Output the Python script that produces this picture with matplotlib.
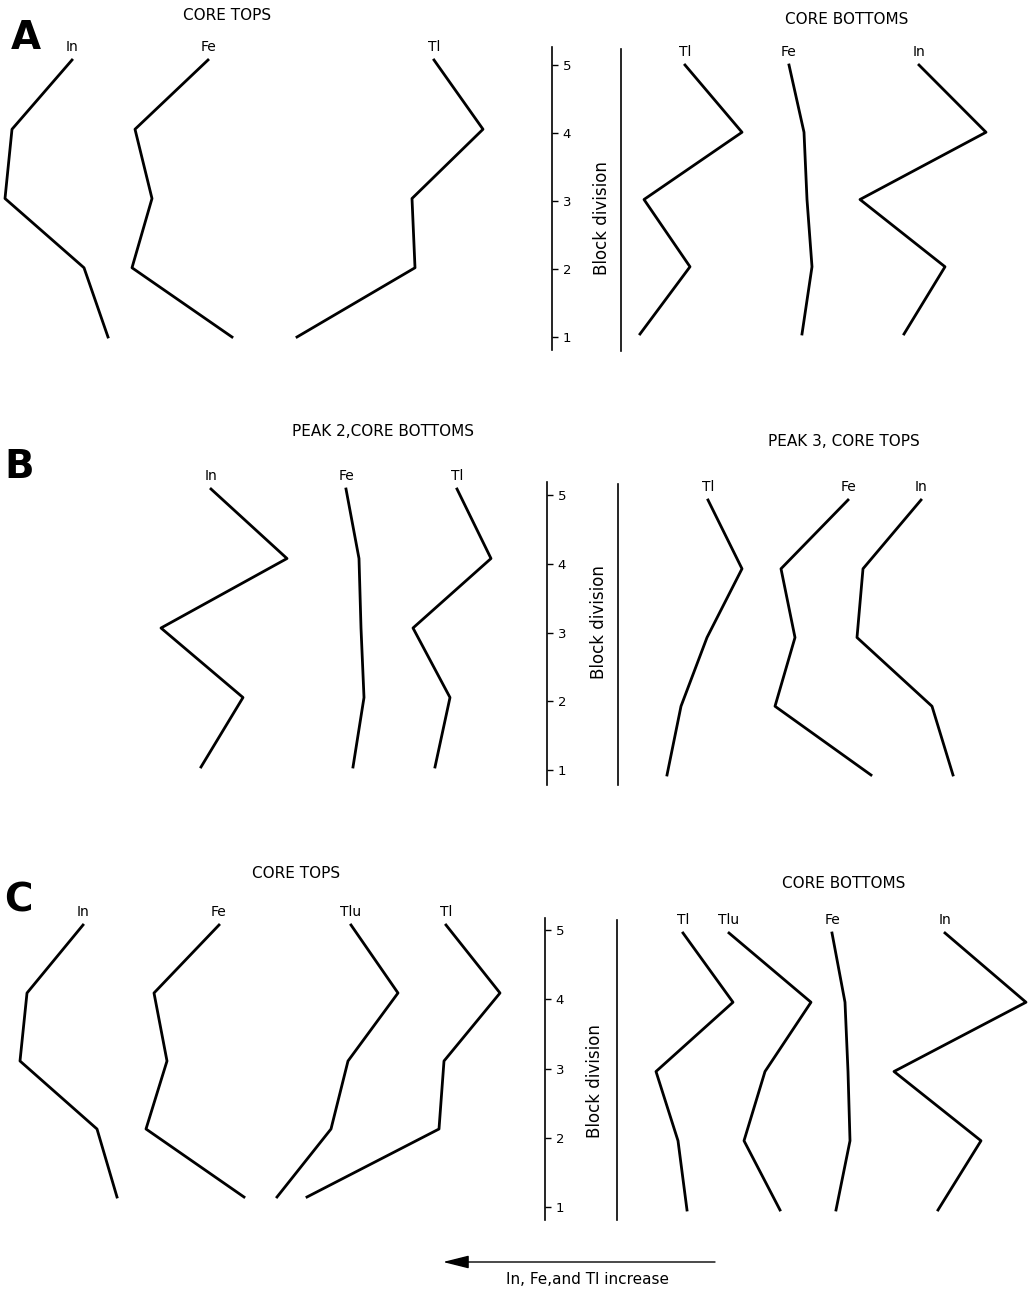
import matplotlib
matplotlib.use('Agg')
import matplotlib.pyplot as plt

W, H = 1028, 1289

blocks = [1, 2, 3, 4, 5]
block_ticks = [1, 2, 3, 4, 5]

# положения профилей по горизонтали (рост влево), по блокам 1..5
# A - core tops
a_tops_in = [108, 84, 5, 12, 72]
a_tops_fe = [232, 132, 152, 135, 208]
a_tops_tl = [297, 415, 412, 483, 434]
# A - core bottoms
a_bot_tl = [640, 690, 644, 742, 685]
a_bot_fe = [802, 812, 807, 804, 789]
a_bot_in = [904, 945, 860, 986, 919]

# B - peak 2, core bottoms
b_p2_in = [201, 243, 161, 287, 211]
b_p2_fe = [353, 364, 361, 359, 346]
b_p2_tl = [435, 450, 413, 491, 457]
# B - peak 3, core tops
b_p3_tl = [667, 681, 707, 742, 708]
b_p3_fe = [871, 775, 795, 781, 848]
b_p3_in = [953, 932, 857, 863, 921]

# C - core tops
c_tops_in = [117, 97, 20, 27, 83]
c_tops_fe = [244, 146, 167, 154, 219]
c_tops_tlu = [277, 331, 348, 398, 351]
c_tops_tl = [307, 439, 444, 500, 446]
# C - core bottoms
c_bot_tl = [687, 678, 656, 733, 683]
c_bot_tlu = [780, 744, 765, 811, 729]
c_bot_fe = [836, 850, 848, 845, 832]
c_bot_in = [938, 981, 894, 1026, 945]

panels = [
    {
        'letter': 'A', 'letter_pos': (26, 38),
        'left_title': 'CORE TOPS', 'left_title_pos': (227, 15),
        'right_title': 'CORE BOTTOMS', 'right_title_pos': (847, 20),
        'left': [('In', a_tops_in), ('Fe', a_tops_fe), ('Tl', a_tops_tl)],
        'right': [('Tl', a_bot_tl), ('Fe', a_bot_fe), ('In', a_bot_in)],
        'left_y': (60, 337), 'right_y': (65, 334),
        'scale_x': 552, 'scale_span': (47, 350), 'scale_y': (65, 337),
        'vline_x': 621, 'vline_span': (49, 351), 'label_xy': (602, 218),
    },
    {
        'letter': 'B', 'letter_pos': (19, 467),
        'left_title': 'PEAK 2,CORE BOTTOMS', 'left_title_pos': (383, 432),
        'right_title': 'PEAK 3, CORE TOPS', 'right_title_pos': (844, 441),
        'left': [('In', b_p2_in), ('Fe', b_p2_fe), ('Tl', b_p2_tl)],
        'right': [('Tl', b_p3_tl), ('Fe', b_p3_fe), ('In', b_p3_in)],
        'left_y': (489, 767), 'right_y': (500, 775),
        'scale_x': 547, 'scale_span': (482, 785), 'scale_y': (495, 770),
        'vline_x': 618, 'vline_span': (484, 785), 'label_xy': (599, 622),
    },
    {
        'letter': 'C', 'letter_pos': (18, 900),
        'left_title': 'CORE TOPS', 'left_title_pos': (296, 874),
        'right_title': 'CORE BOTTOMS', 'right_title_pos': (844, 884),
        'left': [('In', c_tops_in), ('Fe', c_tops_fe), ('Tlu', c_tops_tlu), ('Tl', c_tops_tl)],
        'right': [('Tl', c_bot_tl), ('Tlu', c_bot_tlu), ('Fe', c_bot_fe), ('In', c_bot_in)],
        'left_y': (925, 1197), 'right_y': (933, 1210),
        'scale_x': 545, 'scale_span': (918, 1220), 'scale_y': (930, 1207),
        'vline_x': 617, 'vline_span': (920, 1220), 'label_xy': (595, 1081),
    },
]


def fx(x):
    return x / W


def fy(y):
    return 1 - y / H


# оси в пикселях картинки, шкала блоков: y5 -> блок 5, y1 -> блок 1
def block_axes(fig, x0, x1, top, bot, y5, y1):
    ax = fig.add_axes([fx(x0), fy(bot), (x1 - x0) / W, (bot - top) / H])
    ppu = (y1 - y5) / 4.0
    ax.set_ylim(1 - (bot - y1) / ppu, 5 + (y5 - top) / ppu)
    ax.set_xlim(x0, x1)
    ax.patch.set_visible(False)
    ax.set_xticks([])
    ax.set_yticks([])
    for s in ax.spines.values():
        s.set_visible(False)
    return ax


def draw_profiles(ax, profiles):
    for name, vals in profiles:
        ax.plot(vals, blocks, color='black', lw=2.0, clip_on=False)
        ax.annotate(name, (vals[-1], blocks[-1]), xytext=(0, 4), textcoords='offset points',
                    ha='center', va='bottom', fontsize=10)


fig = plt.figure(figsize=(W / 100, H / 100), dpi=100)

for p in panels:
    # левая группа
    y5, y1 = p['left_y']
    ax_l = block_axes(fig, 0, 540, y5, y1, y5, y1)
    draw_profiles(ax_l, p['left'])

    # правая группа, левая граница оси = вертикальная линия
    top, bot = p['vline_span']
    y5, y1 = p['right_y']
    ax_r = block_axes(fig, p['vline_x'], W, top, bot, y5, y1)
    ax_r.spines['left'].set_visible(True)
    ax_r.spines['left'].set_linewidth(1.2)
    draw_profiles(ax_r, p['right'])

    # шкала блоков
    top, bot = p['scale_span']
    y5, y1 = p['scale_y']
    sx = p['scale_x']
    ax_s = block_axes(fig, sx, sx + 8, top, bot, y5, y1)
    ax_s.spines['left'].set_visible(True)
    ax_s.spines['left'].set_linewidth(1.2)
    ax_s.set_yticks(block_ticks)
    ax_s.tick_params(axis='y', direction='in', length=4, width=1, left=True, right=False,
                     labelleft=False, labelright=True, labelsize=9.5, pad=2)
    ax_s.set_ylabel('Block division', fontsize=12)
    ax_s.yaxis.set_label_position('right')
    lx, ly = p['label_xy']
    ax_s.yaxis.set_label_coords((lx - sx) / 8.0, (bot - ly) / (bot - top))
    ax_s.yaxis.label.set_verticalalignment('center')
    ax_s.yaxis.label.set_horizontalalignment('center')
    ax_s.yaxis.label.set_rotation_mode('default')

    lx, ly = p['letter_pos']
    fig.text(fx(lx), fy(ly), p['letter'], fontsize=28, fontweight='bold', ha='center', va='center')
    tx, ty = p['left_title_pos']
    fig.text(fx(tx), fy(ty), p['left_title'], fontsize=11, ha='center', va='center')
    tx, ty = p['right_title_pos']
    fig.text(fx(tx), fy(ty), p['right_title'], fontsize=11, ha='center', va='center')

# стрелка внизу
fig.add_artist(matplotlib.patches.FancyArrowPatch(
    (fx(715), fy(1262)), (fx(443), fy(1262)), transform=fig.transFigure,
    arrowstyle='-|>,head_length=1.6,head_width=0.4', mutation_scale=10,
    color='black', lw=1.0, shrinkA=0, shrinkB=0))
fig.text(fx(587), fy(1280), 'In, Fe,and Tl increase', fontsize=11, ha='center', va='center')

fig.savefig('out.png', dpi=100)
